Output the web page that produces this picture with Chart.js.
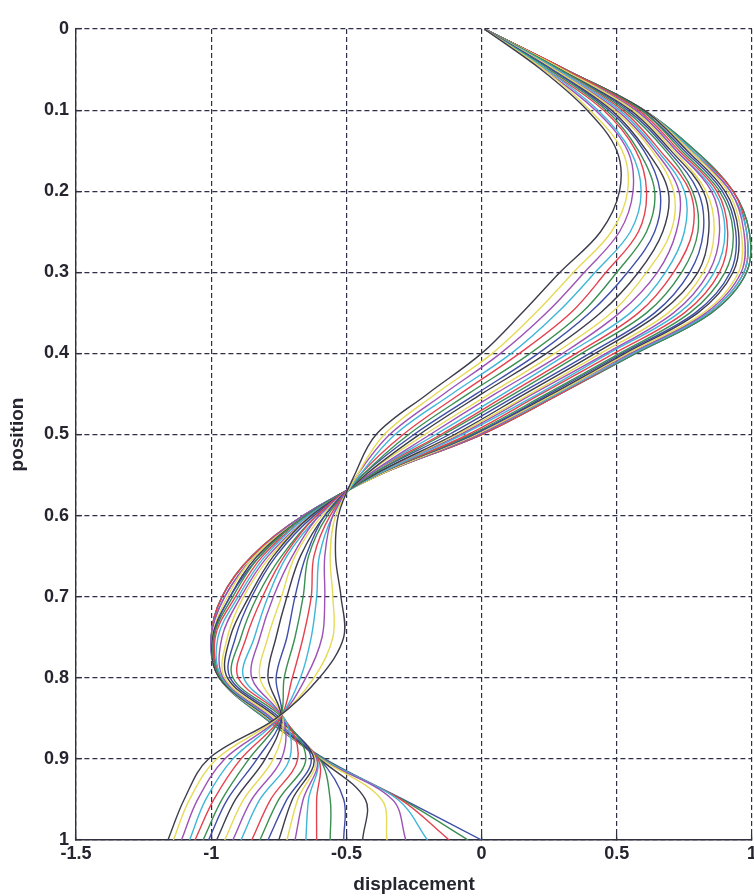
<!DOCTYPE html>
<html>
<head>
<meta charset="utf-8">
<script src="https://cdn.jsdelivr.net/npm/chart.js@4/dist/chart.umd.min.js"></script>
<style>
  html, body { margin: 0; padding: 0; background: #ffffff; }
  canvas { display: block; }
</style>
</head>
<body>
<canvas id="c" width="754" height="896"></canvas>
<script>
// Sampled positions along the member (0 = top, 1 = bottom)
const position = [0, 0.05, 0.1, 0.15, 0.2, 0.25, 0.3, 0.35, 0.4, 0.45, 0.5,
                  0.55, 0.6, 0.65, 0.7, 0.75, 0.8, 0.85, 0.9, 0.95, 1];

// Displacement of each of the 28 snapshots at a given position (snapshot 1 first)
const p000 = [0.01,0.01,0.01,0.01,0.01,0.01,0.01,0.01,0.01,0.01,0.01,0.01,0.01,0.01,0.01,0.01,0.01,0.01,0.01,0.01,0.01,0.01,0.01,0.01,0.01,0.01,0.01,0.01];
const p005 = [0.31,0.31,0.31,0.31,0.31,0.31,0.31,0.31,0.31,0.31,0.30,0.30,0.30,0.29,0.29,0.29,0.28,0.28,0.27,0.27,0.26,0.26,0.25,0.24,0.24,0.23,0.23,0.22];
const p010 = [0.60,0.60,0.60,0.60,0.60,0.60,0.60,0.59,0.59,0.58,0.57,0.57,0.56,0.55,0.54,0.53,0.52,0.51,0.50,0.49,0.48,0.47,0.46,0.45,0.43,0.42,0.40,0.39];
const p015 = [0.79,0.79,0.78,0.78,0.77,0.77,0.76,0.75,0.74,0.73,0.72,0.72,0.71,0.70,0.69,0.68,0.66,0.65,0.64,0.63,0.61,0.60,0.58,0.57,0.55,0.54,0.52,0.50];
const p020 = [0.93,0.93,0.93,0.92,0.92,0.91,0.90,0.89,0.88,0.87,0.86,0.85,0.83,0.82,0.80,0.78,0.77,0.75,0.73,0.71,0.69,0.66,0.64,0.61,0.59,0.56,0.54,0.51];
const p025 = [0.99,0.99,0.98,0.98,0.97,0.96,0.95,0.94,0.93,0.91,0.90,0.88,0.86,0.84,0.82,0.80,0.78,0.75,0.72,0.70,0.67,0.64,0.61,0.58,0.55,0.51,0.48,0.44];
const p030 = [0.98,0.98,0.97,0.97,0.96,0.95,0.93,0.92,0.90,0.88,0.86,0.84,0.82,0.80,0.77,0.74,0.71,0.68,0.65,0.61,0.58,0.54,0.50,0.46,0.42,0.38,0.34,0.29];
const p035 = [0.85,0.85,0.84,0.84,0.83,0.82,0.80,0.79,0.77,0.75,0.73,0.71,0.69,0.66,0.64,0.61,0.58,0.55,0.51,0.48,0.44,0.40,0.37,0.33,0.28,0.24,0.20,0.15];
const p040 = [0.57,0.57,0.56,0.56,0.55,0.54,0.53,0.52,0.51,0.49,0.47,0.46,0.44,0.42,0.40,0.37,0.35,0.32,0.30,0.27,0.24,0.21,0.18,0.14,0.11,0.07,0.04,0.00];
const p045 = [0.29,0.29,0.29,0.28,0.27,0.27,0.26,0.25,0.24,0.22,0.21,0.19,0.18,0.16,0.14,0.12,0.10,0.08,0.05,0.03,0.00,-0.02,-0.05,-0.08,-0.11,-0.14,-0.17,-0.20];
const p050 = [0.00,0.00,0.00,-0.01,-0.01,-0.02,-0.03,-0.03,-0.04,-0.05,-0.07,-0.08,-0.09,-0.10,-0.12,-0.14,-0.15,-0.17,-0.19,-0.21,-0.23,-0.25,-0.27,-0.29,-0.32,-0.34,-0.36,-0.39];
const p055 = [-0.38,-0.38,-0.38,-0.38,-0.38,-0.38,-0.39,-0.39,-0.39,-0.39,-0.39,-0.40,-0.40,-0.40,-0.41,-0.41,-0.42,-0.42,-0.42,-0.43,-0.43,-0.44,-0.44,-0.45,-0.45,-0.46,-0.46,-0.47];
const p060 = [-0.66,-0.66,-0.66,-0.66,-0.66,-0.65,-0.65,-0.65,-0.65,-0.64,-0.64,-0.63,-0.63,-0.63,-0.62,-0.61,-0.61,-0.60,-0.60,-0.59,-0.58,-0.58,-0.57,-0.56,-0.55,-0.55,-0.54,-0.53];
const p065 = [-0.85,-0.85,-0.85,-0.84,-0.84,-0.84,-0.83,-0.82,-0.82,-0.81,-0.80,-0.79,-0.78,-0.77,-0.76,-0.74,-0.73,-0.72,-0.70,-0.69,-0.67,-0.65,-0.64,-0.62,-0.60,-0.58,-0.56,-0.54];
const p070 = [-0.96,-0.96,-0.96,-0.95,-0.95,-0.94,-0.93,-0.93,-0.92,-0.91,-0.90,-0.89,-0.88,-0.86,-0.85,-0.83,-0.81,-0.79,-0.77,-0.74,-0.72,-0.69,-0.66,-0.63,-0.61,-0.58,-0.55,-0.52];
const p075 = [-1.00,-1.00,-1.00,-1.00,-1.00,-0.995,-0.995,-0.99,-0.99,-0.985,-0.975,-0.96,-0.94,-0.93,-0.91,-0.89,-0.87,-0.84,-0.82,-0.79,-0.76,-0.72,-0.69,-0.66,-0.63,-0.59,-0.55,-0.51];
const p080 = [-0.97,-0.97,-0.97,-0.97,-0.97,-0.97,-0.97,-0.965,-0.965,-0.96,-0.96,-0.955,-0.95,-0.94,-0.93,-0.92,-0.90,-0.88,-0.85,-0.82,-0.79,-0.76,-0.73,-0.70,-0.67,-0.65,-0.62,-0.60];
const p085 = [-0.80,-0.80,-0.795,-0.795,-0.79,-0.79,-0.785,-0.785,-0.78,-0.78,-0.78,-0.775,-0.765,-0.755,-0.745,-0.735,-0.73,-0.73,-0.735,-0.735,-0.74,-0.74,-0.745,-0.745,-0.75,-0.75,-0.755,-0.76];
const p090 = [-0.58,-0.585,-0.59,-0.59,-0.595,-0.595,-0.60,-0.60,-0.60,-0.605,-0.61,-0.61,-0.615,-0.62,-0.63,-0.65,-0.68,-0.71,-0.74,-0.77,-0.80,-0.83,-0.86,-0.89,-0.92,-0.95,-0.98,-1.01];
const p095 = [-0.29,-0.295,-0.30,-0.31,-0.33,-0.37,-0.43,-0.51,-0.56,-0.61,-0.64,-0.66,-0.68,-0.70,-0.72,-0.75,-0.78,-0.82,-0.85,-0.88,-0.91,-0.94,-0.96,-0.99,-1.02,-1.05,-1.08,-1.10];
const p100 = [0.00,-0.05,-0.12,-0.20,-0.28,-0.35,-0.44,-0.51,-0.56,-0.61,-0.65,-0.69,-0.72,-0.75,-0.79,-0.82,-0.85,-0.89,-0.92,-0.95,-0.98,-1.01,-1.03,-1.06,-1.08,-1.11,-1.14,-1.16];

const rows = [p000, p005, p010, p015, p020, p025, p030, p035, p040, p045, p050,
              p055, p060, p065, p070, p075, p080, p085, p090, p095, p100];

// Axis ticks
const xTicks = [-1.5, -1, -0.5, 0, 0.5, 1];
const xTickLabels = ['-1.5', '-1', '-0.5', '0', '0.5', '1'];
const yTicks = [0, 0.1, 0.2, 0.3, 0.4, 0.5, 0.6, 0.7, 0.8, 0.9, 1];
const yTickLabels = ['0', '0.1', '0.2', '0.3', '0.4', '0.5', '0.6', '0.7', '0.8', '0.9', '1'];

// Classic plotting colour cycle: b, g, r, c, m, y, k
const lineColors = ['#3f4ea6', '#3b8f52', '#e5424f', '#3fb6d8', '#9d52b8', '#e6da58', '#3d3d4c'];

const snapshotCount = p000.length;
const datasets = [];
for (let k = 0; k < snapshotCount; k++) {
  datasets.push({
    label: 'snapshot ' + (k + 1),
    data: position.map((p, i) => ({ x: rows[i][k], y: p })),
    borderColor: lineColors[k % lineColors.length],
    borderWidth: 1.4,
    pointRadius: 0,
    fill: false,
    tension: 0.35,
    order: -k
  });
}

const font = "'Liberation Sans', Arial, Helvetica, sans-serif";
const textColor = '#25252f';
const gridColor = '#2f2f4a';
const axisColor = '#30303e';

new Chart(document.getElementById('c'), {
  type: 'line',
  data: { datasets },
  options: {
    responsive: false,
    animation: false,
    devicePixelRatio: 1,
    layout: { padding: { top: 29, right: 2, left: 0, bottom: 0 } },
    plugins: { legend: { display: false }, tooltip: { enabled: false } },
    scales: {
      x: {
        type: 'linear',
        position: 'bottom',
        min: -1.5,
        max: 1,
        afterBuildTicks: s => { s.ticks = xTicks.map(v => ({ value: v })); },
        afterFit: s => { s.height = 56; s.paddingLeft = 0; s.paddingRight = 0; },
        ticks: {
          autoSkip: false,
          maxRotation: 0,
          padding: 9,
          color: textColor,
          font: { family: font, size: 18, weight: 'bold' },
          callback: (v, i) => xTickLabels[i]
        },
        // negative tick length turns the tick marks inward, over the plot
        grid: { color: gridColor, lineWidth: 1.2, drawTicks: true, tickLength: -6,
                tickColor: axisColor, tickWidth: 1.3 },
        border: { display: true, color: axisColor, width: 1.4, dash: [5, 3] },
        title: {
          display: true,
          text: 'displacement',
          color: textColor,
          font: { family: font, size: 19, weight: 'bold' },
          padding: { top: 0, bottom: 0 }
        }
      },
      y: {
        type: 'linear',
        position: 'left',
        reverse: true,
        min: 0,
        max: 1,
        afterBuildTicks: s => { s.ticks = yTicks.map(v => ({ value: v })); },
        afterFit: s => { s.width = 76; s.paddingTop = 0; s.paddingBottom = 0; },
        ticks: {
          autoSkip: false,
          padding: 13,
          color: textColor,
          font: { family: font, size: 18, weight: 'bold' },
          callback: (v, i) => yTickLabels[i]
        },
        grid: { color: gridColor, lineWidth: 1.2, drawTicks: true, tickLength: -6,
                tickColor: axisColor, tickWidth: 1.3 },
        border: { display: true, color: axisColor, width: 1.4, dash: [5, 3] },
        title: {
          display: true,
          text: 'position',
          color: textColor,
          font: { family: font, size: 19, weight: 'bold' },
          padding: { top: 6, bottom: 0 }
        }
      }
    }
  }
});
</script>
</body>
</html>
